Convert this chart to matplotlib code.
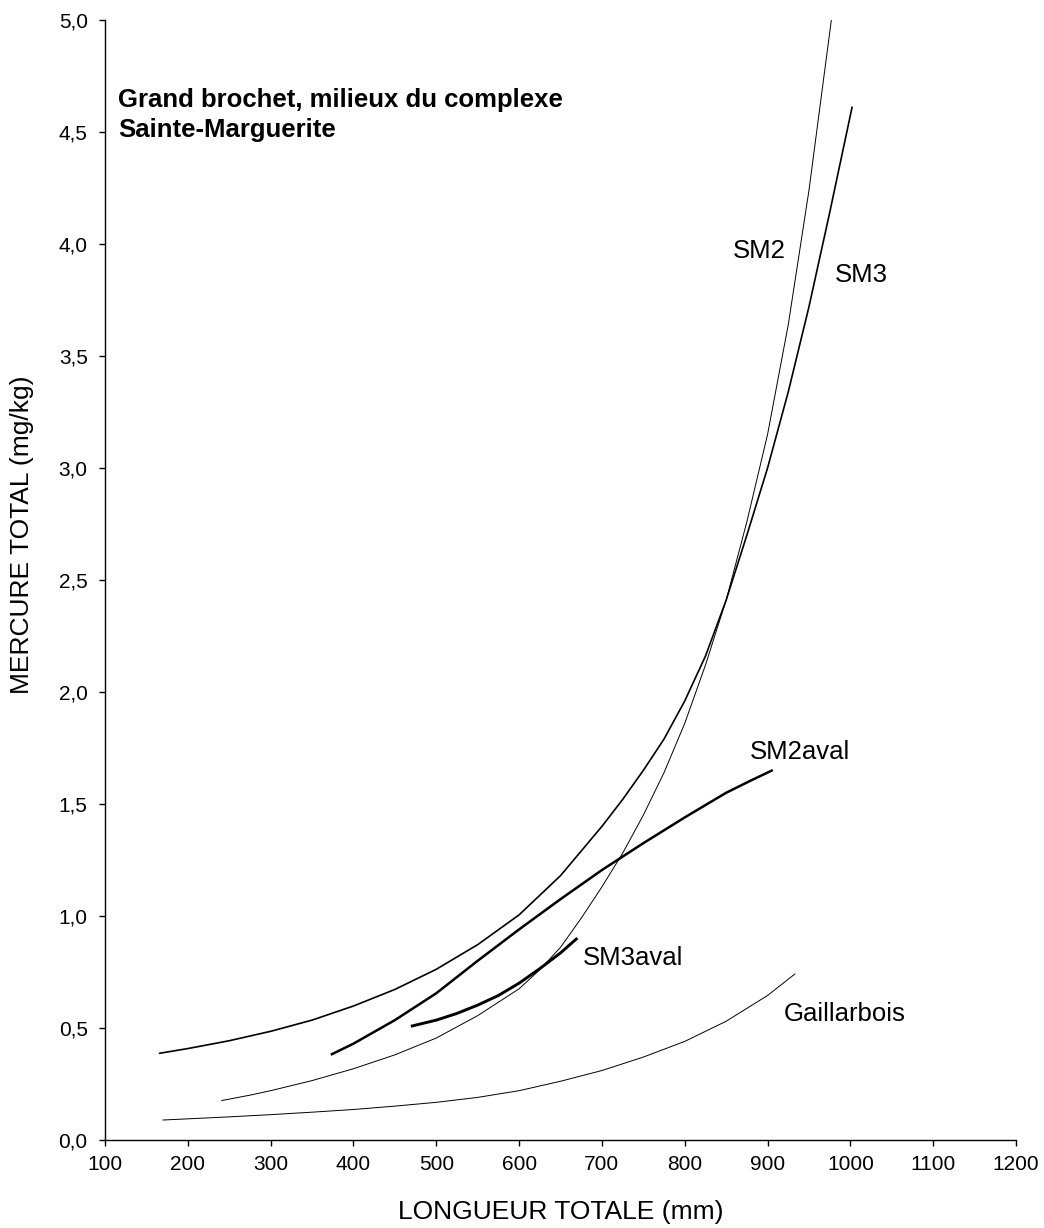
import matplotlib
matplotlib.use('Agg')
import matplotlib.pyplot as plt
from matplotlib.ticker import FuncFormatter, MultipleLocator

plt.rcParams['font.family'] = ['Liberation Sans', 'DejaVu Sans']

# --- curves (length in mm, mercury in mg/kg) ---
sm2_x = [241, 275, 300, 350, 400, 450, 500, 550, 600, 625, 650, 675, 700,
         725, 750, 775, 800, 825, 850, 875, 900, 925, 950, 977]
sm2_y = [0.176, 0.200, 0.220, 0.265, 0.318, 0.380, 0.455, 0.555, 0.675, 0.76, 0.86, 0.99, 1.13,
         1.28, 1.45, 1.64, 1.86, 2.12, 2.41, 2.76, 3.15, 3.64, 4.24, 5.0]

sm3_x = [166, 200, 250, 300, 350, 400, 450, 500, 550, 600, 650, 700,
         725, 750, 775, 800, 825, 850, 875, 900, 925, 950, 975, 1002]
sm3_y = [0.387, 0.408, 0.443, 0.485, 0.535, 0.598, 0.672, 0.762, 0.872, 1.005, 1.18, 1.40,
         1.52, 1.65, 1.79, 1.96, 2.16, 2.41, 2.70, 3.00, 3.34, 3.72, 4.14, 4.61]

sm2aval_x = [374, 400, 450, 500, 550, 600, 650, 700, 750, 800, 850, 880, 905]
sm2aval_y = [0.383, 0.43, 0.535, 0.655, 0.80, 0.94, 1.075, 1.205, 1.325, 1.44, 1.55, 1.605, 1.649]

sm3aval_x = [471, 500, 525, 550, 575, 600, 625, 650, 669]
sm3aval_y = [0.509, 0.535, 0.565, 0.602, 0.645, 0.70, 0.765, 0.835, 0.897]

gail_x = [170, 250, 300, 350, 400, 450, 500, 550, 600, 650, 700, 750, 800, 850, 900, 933]
gail_y = [0.089, 0.103, 0.113, 0.124, 0.136, 0.151, 0.168, 0.19, 0.22, 0.262, 0.31, 0.37,
          0.44, 0.53, 0.645, 0.741]

fig = plt.figure(figsize=(10.44, 12.28), dpi=100)
ax = fig.add_axes([0.1006, 0.0717, 0.8726, 0.912])

ax.plot(sm2_x, sm2_y, color='black', lw=0.7)
ax.plot(sm3_x, sm3_y, color='black', lw=1.2)
ax.plot(sm2aval_x, sm2aval_y, color='black', lw=1.8)
ax.plot(sm3aval_x, sm3aval_y, color='black', lw=2.1)
ax.plot(gail_x, gail_y, color='black', lw=0.7)

# curve labels
lab = dict(fontsize=18.5, va='baseline', ha='left')
ax.text(858, 3.937, 'SM2', **lab)
ax.text(981, 3.832, 'SM3', **lab)
ax.text(879, 1.70, 'SM2aval', **lab)
ax.text(677.5, 0.781, 'SM3aval', **lab)
ax.text(920, 0.533, 'Gaillarbois', **lab)

ax.text(116, 4.612, 'Grand brochet, milieux du complexe', fontsize=18.5,
        fontweight='bold', va='baseline', ha='left')
ax.text(116, 4.478, 'Sainte-Marguerite', fontsize=18.5,
        fontweight='bold', va='baseline', ha='left')

ax.set_xlim(100, 1200)
ax.set_ylim(0, 5)
ax.xaxis.set_major_locator(MultipleLocator(100))
ax.yaxis.set_major_locator(MultipleLocator(0.5))
ax.yaxis.set_major_formatter(FuncFormatter(lambda v, p: f'{v:.1f}'.replace('.', ',')))

for s in ['top', 'right']:
    ax.spines[s].set_visible(False)
for s in ['left', 'bottom']:
    ax.spines[s].set_linewidth(1.0)
ax.tick_params(direction='out', length=4.5, width=1, labelsize=15)
ax.tick_params(axis='y', pad=8)
ax.tick_params(axis='x', pad=6)

ax.set_xlabel('LONGUEUR TOTALE (mm)', fontsize=19)
ax.set_ylabel('MERCURE TOTAL (mg/kg)', fontsize=19)
ax.xaxis.label.set_va('center')
ax.yaxis.label.set_va('center')
ax.xaxis.set_label_coords(0.5, -0.064)
ax.yaxis.set_label_coords(-0.091, 0.54)

plt.savefig('out.png', dpi=100, facecolor='white')
